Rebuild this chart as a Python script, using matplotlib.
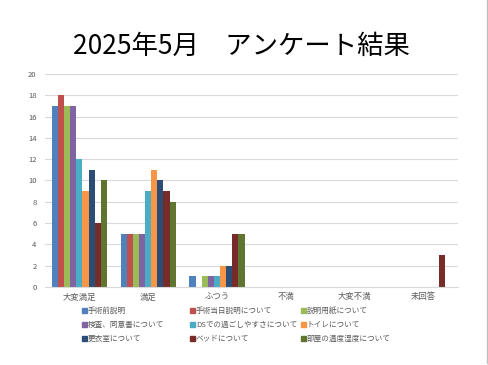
import numpy as np
import matplotlib.pyplot as plt
from matplotlib.lines import Line2D

plt.rcParams['font.family'] = ['Noto Sans CJK JP', 'DejaVu Sans']

categories = ['大変満足', '満足', 'ふつう', '不満', '大変不満', '未回答']
series_names = [
    '手術前説明', '手術当日説明について', '説明用紙について',
    '検査、同意書について', 'DSでの過ごしやすさについて', 'トイレについて',
    '更衣室について', 'ベッドについて', '部屋の温度湿度について',
]
values = [
    [17, 5, 1, 0, 0, 0],
    [18, 5, 0, 0, 0, 0],
    [17, 5, 1, 0, 0, 0],
    [17, 5, 1, 0, 0, 0],
    [12, 9, 1, 0, 0, 0],
    [9, 11, 2, 0, 0, 0],
    [11, 10, 2, 0, 0, 0],
    [6, 9, 5, 0, 0, 3],
    [10, 8, 5, 0, 0, 0],
]
colors = ['#4F81BD', '#C0504D', '#9BBB59', '#8064A2', '#4BACC6',
          '#F79646', '#2C4D75', '#772C2A', '#5F7530']
yticks = [0, 2, 4, 6, 8, 10, 12, 14, 16, 18, 20]

fig = plt.figure(figsize=(4.88, 3.65), dpi=100)
ax = fig.add_axes([0.0922, 0.214, 0.846, 0.583])

x = np.arange(len(categories))
n = len(series_names)
w = 0.8 / n
handles = []
for i, (name, vals, c) in enumerate(zip(series_names, values, colors)):
    ax.bar(x - 0.4 + w * (i + 0.5), vals, width=w, color=c, label=name)
    handles.append(Line2D([], [], marker='s', linestyle='none', color=c,
                          markersize=3.6, label=name))

ax.set_xlim(-0.5, len(categories) - 0.5)
ax.set_ylim(0, 20)
ax.set_yticks(yticks)
ax.set_xticks(x)
ax.set_xticklabels(categories)
ax.tick_params(axis='x', length=0, labelsize=6, colors='#595959', pad=4)
ax.tick_params(axis='y', length=0, labelsize=5.5, colors='#595959', pad=6)
ax.grid(axis='y', color='#D9D9D9', linewidth=0.8)
ax.set_axisbelow(True)
for s in ['top', 'right', 'left']:
    ax.spines[s].set_visible(False)
ax.spines['bottom'].set_color('#D9D9D9')

fig.text(0.494, 0.872, '2025年5月　アンケート結果', ha='center', va='center',
         fontsize=19)

# legend: three fixed-width columns, entries in row order
col_x = [81 / 488, 189 / 488, 300 / 488]
for col in range(3):
    idx = [col, col + 3, col + 6]
    fig.legend([handles[k] for k in idx], [series_names[k] for k in idx],
               loc='upper left', bbox_to_anchor=(col_x[col], 0.16),
               frameon=False, fontsize=5.5, labelcolor='#595959',
               handletextpad=0.1, handlelength=0.8, labelspacing=0.78,
               borderaxespad=0, borderpad=0)

fig.add_artist(Line2D([0.998, 0.998], [0.005, 1], color='#BFBFBF', linewidth=1))

fig.savefig('out.png', dpi=100)
